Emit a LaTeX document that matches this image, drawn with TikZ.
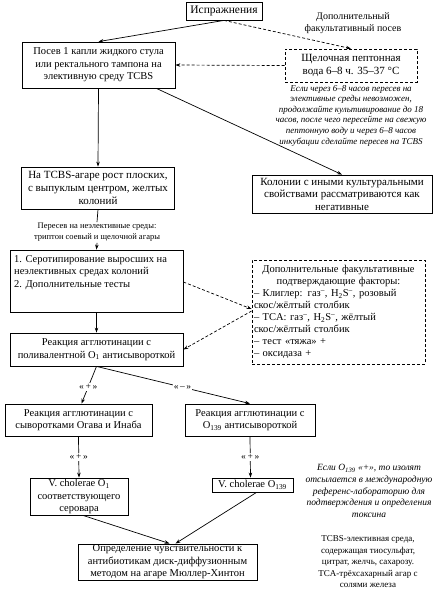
\documentclass[tikz,border=0pt]{standalone}
\usepackage{fontspec}
\setmainfont{Liberation Serif}
\usetikzlibrary{arrows.meta,calc}
\tikzset{
  box/.style={draw, line width=0.8pt, align=center, inner sep=2pt, font=\fontsize{10.5}{12.5}\selectfont},
  dbox/.style={box, dash pattern=on 3pt off 2pt},
  arr/.style={-{Stealth[length=5pt,width=3.5pt]}, line width=0.7pt},
  darr/.style={arr, dash pattern=on 3pt off 2pt},
  plain/.style={line width=0.7pt},
  lab/.style={fill=white, inner sep=1pt, font=\fontsize{9.5}{11}\selectfont},
  note/.style={align=center, font=\itshape\fontsize{9}{10.6}\selectfont},
  smalltext/.style={align=center, font=\fontsize{8}{11}\selectfont},
}
\begin{document}
\begin{tikzpicture}[x=1pt,y=-1pt]
\useasboundingbox (0,0) rectangle (446,592);

% nodes
\node[box, minimum width=76pt, minimum height=18pt, font=\fontsize{11.5}{13}\selectfont] (isp) at (224,11) {Испражнения};
\node[smalltext, font=\fontsize{10}{12.5}\selectfont] (dopposev) at (353,23) {Дополнительный\\факультативный посев};
\node[box, minimum width=153pt, minimum height=46pt] (posev) at (98.5,65) {Посев 1 капли жидкого стула\\или ректального тампона на\\элективную среду TCBS};
\node[dbox, minimum width=132pt, minimum height=33pt, font=\fontsize{11}{13}\selectfont] (shch) at (351,65.5) {Щелочная пептонная\\вода 6–8 ч. 35–37 °C};
\node[note] (ifnote) at (351,115.5) {Если через 6–8 часов пересев на\\элективные среды невозможен,\\продолжайте культивирование до 18\\часов, после чего пересейте на свежую\\пептонную воду и через 6–8 часов\\инкубации сделайте пересев на TCBS};

\node[box, minimum width=153pt, minimum height=42pt, font=\fontsize{11}{13}\selectfont] (tcbs) at (98,188) {На TCBS-агаре рост плоских,\\с выпуклым центром, желтых\\колоний};
\node[box, minimum width=180pt, minimum height=38pt, font=\fontsize{11}{12.5}\selectfont] (kol) at (342,194) {Колонии с иными культуральными\\свойствами рассматриваются как\\негативные};

\node[smalltext, font=\fontsize{8.5}{11}\selectfont, inner sep=1pt] (peresev) at (97,232.5) {Пересев на неэлективные среды:\\триптон соевый и щелочной агары};

\node[draw, line width=0.8pt, minimum width=173pt, minimum height=62pt, inner sep=0pt] (sero) at (96.5,281) {};
\node[anchor=north west, align=left, inner sep=0pt, font=\fontsize{10.5}{12.5}\selectfont] (serotext) at (14,255) {1. Серотипирование выросших на\\неэлективных средах колоний\\2. Дополнительные тесты};

\node[box, minimum width=173pt, minimum height=33pt] (reak) at (96.5,349.5) {Реакция агглютинации с\\поливалентной O\textsubscript{1} антисывороткой};

\node[dbox, minimum width=173pt, minimum height=104pt, text width=169pt, inner sep=2pt, font=\fontsize{10.5}{11.9}\selectfont] (fact) at (338.5,312) {\centering Дополнительные факультативные\\подтверждающие факторы:\par\raggedright
– Клиглер: газ\textsuperscript{–}, H\textsubscript{2}S\textsuperscript{–}, розовый\\скос/жёлтый столбик\\– TCA: газ\textsuperscript{–}, H\textsubscript{2}S\textsuperscript{–}, жёлтый\\скос/жёлтый столбик\\– тест «тяжа» +\\– оксидаза +\par};

\node[box, minimum width=147pt, minimum height=32pt] (ogava) at (78.5,420) {Реакция агглютинации с\\сыворотками Огава и Инаба};
\node[box, minimum width=130pt, minimum height=32pt] (o139) at (250,420) {Реакция агглютинации с\\O\textsubscript{139} антисывороткой};

\node[box, minimum width=98pt, minimum height=37pt, inner sep=1pt] (vch1) at (79,496.5) {V. cholerae O\textsubscript{1}\\соответствующего\\серовара};
\node[box, minimum width=81pt, minimum height=14pt, inner sep=1pt] (vch139) at (252.5,485) {V. cholerae O\textsubscript{139}};

\node[box, minimum width=179pt, minimum height=36pt, inner sep=1pt] (opr) at (167.5,562) {Определение чувствительности к\\антибиотикам диск-диффузионным\\методом на агаре Мюллер-Хинтон};

\node[note, font=\itshape\fontsize{9.5}{11.7}\selectfont] (o139note) at (369,491) {Если O\textsubscript{139} «+», то изолят\\отсылается в международную\\референс-лабораторию для\\подтверждения и определения\\токсина};
\node[smalltext, font=\fontsize{9}{11.5}\selectfont] (tcbsnote) at (368,562) {TCBS-элективная среда,\\содержащая тиосульфат,\\цитрат, желчь, сахарозу.\\TCA-трёхсахарный агар с\\солями железа};

% connectors
\draw[arr] (isp.south) -- (posev.north);
\draw[darr] (isp.south) -- (shch.north);
\draw[darr] (shch.west) -- (posev.east);
\draw[arr] (posev.south) -- (tcbs.north);
\draw[arr] (posev.-22) -- (kol.north);
\draw[plain] (tcbs.south) -- (peresev.north);
\draw[arr] (peresev.south) -- (sero.north);
\draw[arr] (sero.south) -- (reak.north);
\draw[darr] ($(sero.east)+(0,1)$) -- ($(fact.west)+(0,-3)$);
\draw[darr] ($(fact.west)+(0,-1)$) -- (reak.east);
\draw[arr] (reak.south) -- node[lab, pos=0.55] {«\,+\,»} ($(ogava.north)+(3,0)$);
\draw[arr] (reak.south) -- node[lab, pos=0.56] {«\,–\,»} (o139.north);
\draw[arr] (ogava.south) -- node[lab] {«\,+\,»} (vch1.north);
\draw[arr] (o139.south) -- node[lab] {«\,+\,»} ($(vch139.north)+(-2,0)$);
\draw[arr] ($(vch1.south)+(4,0)$) -- ($(opr.north)+(2,0)$);
\draw[arr] ($(vch139.south)+(4,0)$) -- ($(opr.north)+(8,0)$);
\end{tikzpicture}
\end{document}
